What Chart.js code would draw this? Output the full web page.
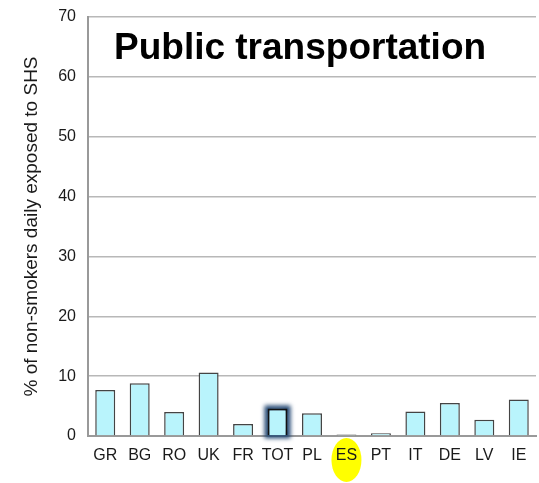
<!DOCTYPE html>
<html>
<head>
<meta charset="utf-8">
<script src="https://cdn.jsdelivr.net/npm/chart.js@4/dist/chart.umd.min.js"></script>
<style>
  html, body { margin: 0; padding: 0; background: #fff; }
  #wrap { position: relative; width: 539px; height: 483px; }
</style>
</head>
<body>
<div id="wrap"><canvas id="c" width="539" height="483"></canvas></div>
<script>
// data
const countries = ["GR", "BG", "RO", "UK", "FR", "TOT", "PL", "ES", "PT", "IT", "DE", "LV", "IE"];
const exposed = [7.7, 8.8, 4.0, 10.6, 2.0, 4.6, 3.8, 0.25, 0.45, 4.1, 5.5, 2.7, 6.1];
const yTicks = [0, 10, 20, 30, 40, 50, 60, 70];
const chartTitle = "Public transportation";
const yTitle = "% of non-smokers daily exposed to SHS";
const totalIdx = countries.indexOf("TOT");
const markIdx = countries.indexOf("ES");

const FONT = "Liberation Sans, Arial, sans-serif";

// yellow blob behind the ES label
const markerPlugin = {
  id: "marker",
  beforeDraw(chart) {
    const ctx = chart.ctx;
    const x = chart.scales.x.getPixelForValue(markIdx);
    ctx.save();
    ctx.fillStyle = "#ffff00";
    ctx.beginPath();
    ctx.ellipse(x, 460, 15, 22, 0, 0, Math.PI * 2);
    ctx.fill();
    ctx.restore();
  }
};

// soft dark glow round the TOT bar
const glowPlugin = {
  id: "glow",
  beforeDatasetsDraw(chart) {
    const bar = chart.getDatasetMeta(0).data[totalIdx];
    const ctx = chart.ctx;
    const w = bar.width;
    ctx.save();
    ctx.filter = "blur(2px)";
    ctx.strokeStyle = "#1f4470";
    ctx.lineWidth = 6;
    ctx.strokeRect(bar.x - w / 2, bar.y, w, bar.base - bar.y);
    ctx.restore();
  }
};

// title sits inside the plot area
const titlePlugin = {
  id: "innerTitle",
  afterDraw(chart) {
    const ctx = chart.ctx;
    ctx.save();
    ctx.font = "bold 37px " + FONT;
    ctx.fillStyle = "#000";
    ctx.textBaseline = "alphabetic";
    ctx.fillText(chartTitle, 114, 59);
    ctx.restore();
  }
};

new Chart(document.getElementById("c"), {
  type: "bar",
  data: {
    labels: countries,
    datasets: [{
      data: exposed,
      backgroundColor: "#b9f4fc",
      borderColor: countries.map((c, i) => i === totalIdx ? "#111" : "#444"),
      borderWidth: countries.map((c, i) => i === totalIdx ? 2 : 1.5),
      barPercentage: 0.58,
      categoryPercentage: 1
    }]
  },
  options: {
    responsive: false,
    animation: false,
    events: [],
    layout: { padding: { top: 17, right: 3, left: 0, bottom: 0 } },
    plugins: { legend: { display: false }, tooltip: { enabled: false } },
    scales: {
      x: {
        grid: { display: false, drawTicks: false },
        border: { color: "#999", width: 2 },
        ticks: {
          color: "#1a1a1a", font: { family: FONT, size: 16 }, padding: 10,
          maxRotation: 0, minRotation: 0, autoSkip: false
        },
        afterFit(s) { s.height = 47; s.paddingLeft = 0; s.paddingRight = 0; }
      },
      y: {
        min: 0,
        max: 70,
        afterBuildTicks(s) { s.ticks = yTicks.map(v => ({ value: v })); },
        grid: { color: "#b8b8b8", lineWidth: 1.5, drawTicks: false },
        border: { color: "#999", width: 2 },
        ticks: { color: "#1a1a1a", font: { family: FONT, size: 16 }, padding: 12 },
        title: {
          display: true,
          text: yTitle,
          color: "#1a1a1a",
          font: { family: FONT, size: 19 },
          padding: { top: 20, bottom: 0 }
        },
        afterFit(s) { s.width = 88; s.paddingTop = 0; s.paddingBottom = 0; }
      }
    }
  },
  plugins: [markerPlugin, glowPlugin, titlePlugin]
});
</script>
</body>
</html>
